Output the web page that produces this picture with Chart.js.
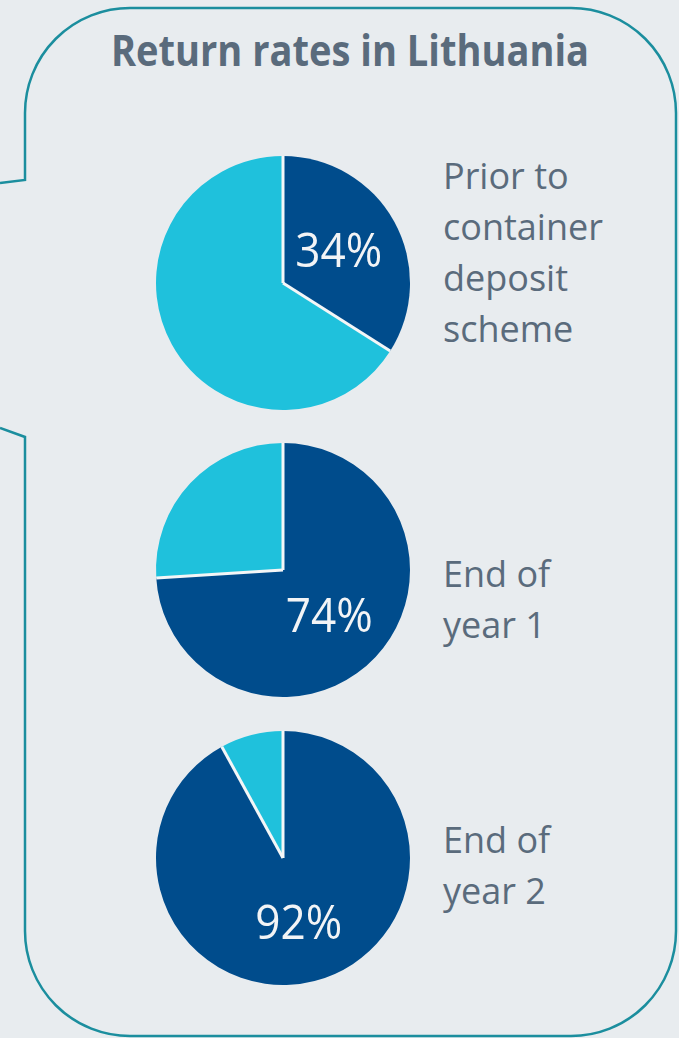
<!DOCTYPE html>
<html>
<head>
<meta charset="utf-8">
<script src="https://cdn.jsdelivr.net/npm/chart.js@4"></script>
<style>
  body { margin: 0; background: #e8ecef; }
  #page { position: relative; width: 679px; height: 1038px; overflow: hidden; background: #e8ecef; }
  #frame { position: absolute; left: 0; top: 0; }
  #title { position: absolute; left: 50px; width: 600px; top: 24px; text-align: center;
           font: bold 43px/52px "Open Sans", sans-serif; color: #5a6b7c; white-space: nowrap;
           transform: scaleX(0.885); transform-origin: 300px 0; }
  .pie { position: absolute; left: 152px; }
  .lbl { position: absolute; left: 443px; font: 36px/51px "Open Sans", sans-serif; color: #5a6b7c; }
</style>
</head>
<body>
<div id="page">
  <svg id="frame" width="679" height="1038">
    <path d="M 0 183 L 25 180 L 25 113 A 105 105 0 0 1 130 8 L 571 8 A 105 105 0 0 1 676 113 L 676 931 A 105 105 0 0 1 571 1036 L 130 1036 A 105 105 0 0 1 25 931 L 25 437 L 0 428"
          fill="none" stroke="#1b8e9e" stroke-width="2.5"/>
  </svg>
  <div id="title">Return rates in Lithuania</div>
</div>
<script>
// data
const periods = ["Prior to container deposit scheme", "End of year 1", "End of year 2"];
const periodLines = [["Prior to", "container", "deposit", "scheme"], ["End of", "year 1"], ["End of", "year 2"]];
const returned = [34, 74, 92];
const notReturned = [66, 26, 8];
const sliceNames = ["Returned", "Not returned"];

const darkBlue = "#004c8c";
const lightBlue = "#1fc1dc";

// where each pie sits (center y) and where its text block starts
const pieCenters = [283, 570, 858];
const textTops = [150, 548, 814];
const labelNudge = [15, 19, 19];

// white separators + the % label inside the dark slice
const pieExtras = {
  id: "pieExtras",
  afterDatasetsDraw(chart) {
    const ctx = chart.ctx;
    const arcs = chart.getDatasetMeta(0).data;
    ctx.save();
    ctx.strokeStyle = "#f4f6f7";
    ctx.lineWidth = 3;
    ctx.lineCap = "butt";
    arcs.forEach(arc => {
      ctx.beginPath();
      ctx.moveTo(arc.x, arc.y);
      ctx.lineTo(arc.x + arc.outerRadius * Math.cos(arc.startAngle), arc.y + arc.outerRadius * Math.sin(arc.startAngle));
      ctx.stroke();
    });
    const pos = arcs[0].tooltipPosition();
    ctx.fillStyle = "#f2f4f6";
    ctx.font = "48px 'Open Sans', sans-serif";
    ctx.textAlign = "center";
    ctx.textBaseline = "alphabetic";
    ctx.translate(pos.x, pos.y + chart.options.labelNudge);
    ctx.scale(0.92, 1);
    ctx.fillText(chart.data.datasets[0].data[0] + "%", 0, 0);
    ctx.restore();
  }
};

const page = document.getElementById("page");

periods.forEach((p, i) => {
  let cv = document.createElement("canvas");
  cv.className = "pie";
  cv.width = 262;
  cv.height = 262;
  cv.style.top = (pieCenters[i] - 131) + "px";
  page.appendChild(cv);

  new Chart(cv, {
    type: "pie",
    data: {
      labels: sliceNames,
      datasets: [{
        label: p,
        data: [returned[i], notReturned[i]],
        backgroundColor: [darkBlue, lightBlue],
        borderWidth: 0
      }]
    },
    options: {
      responsive: false,
      animation: false,
      events: [],
      labelNudge: labelNudge[i],
      layout: { padding: 4 },
      plugins: { legend: { display: false }, tooltip: { enabled: false } }
    },
    plugins: [pieExtras]
  });

  let lbl = document.createElement("div");
  lbl.className = "lbl";
  lbl.style.top = textTops[i] + "px";
  lbl.innerHTML = periodLines[i].join("<br>");
  page.appendChild(lbl);
});
</script>
</body>
</html>
